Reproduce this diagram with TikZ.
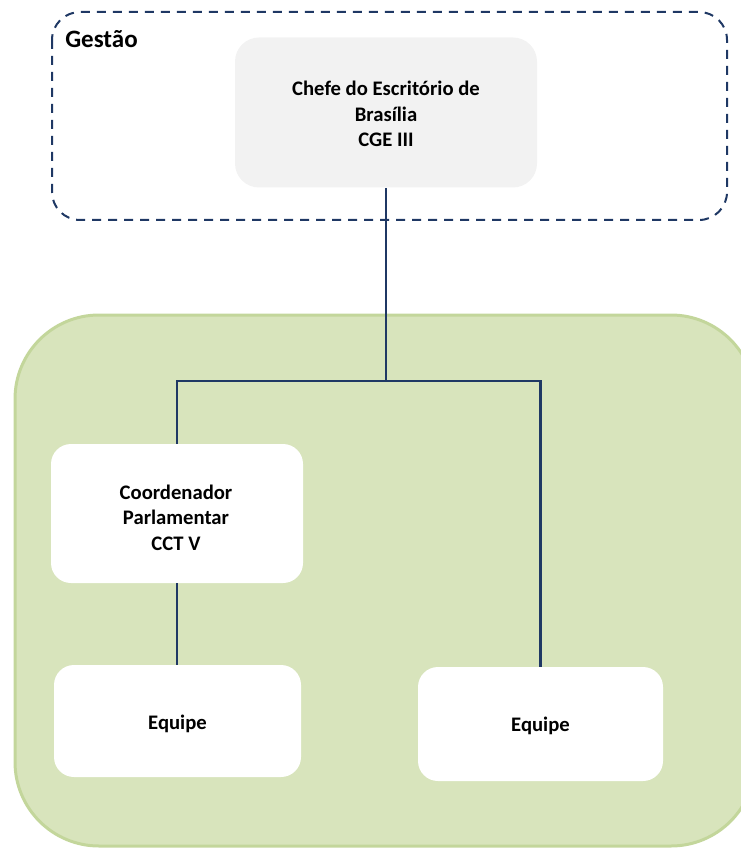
\documentclass[tikz,border=0pt]{standalone}
\usepackage{fontspec}
\setmainfont{Carlito}
\definecolor{navy}{HTML}{1F3864}
\definecolor{greenfill}{HTML}{D8E4BC}
\definecolor{greenline}{HTML}{C3D69B}
\definecolor{grayfill}{HTML}{F2F2F2}
\begin{document}
\begin{tikzpicture}[x=0.75pt,y=-0.75pt,
  box/.style={rounded corners=15pt, inner sep=0pt},
  txt/.style={inner sep=0pt, align=center,
    font=\bfseries\fontsize{15.5}{19}\selectfont},
  conn/.style={draw=navy, line width=1.7pt}]
\useasboundingbox (0,0) rectangle (741,848);
\clip (0,0) rectangle (741,848);
% Gestao frame
\draw[navy, line width=1.5pt, dash pattern=on 6.75pt off 5.25pt, rounded corners=21pt]
  (52,12) rectangle (727,220);
\node[anchor=base west, inner sep=0pt, font=\bfseries\fontsize{18.75}{22}\selectfont] (gestao) at (65,48) {Gestão};
\node[box, fill=grayfill, rounded corners=18pt, minimum width=226.5pt, minimum height=112.5pt]
  (chefe) at (386,112.5) {};
\node[txt] (chefetxt) at ([yshift=-1.1pt]chefe.center) {Chefe do Escritório de\\Brasília\\CGE III};
% green area
\draw[greenline, fill=greenfill, line width=2.25pt, rounded corners=63pt]
  (15,315) rectangle (755,846);
\node[box, fill=white, minimum width=189pt, minimum height=104.25pt]
  (coord) at (177,513.5) {};
\node[txt] (coordtxt) at ([yshift=-3.2pt, xshift=-0.75pt]coord.center) {Coordenador\\Parlamentar\\CCT V};
\node[box, fill=white, minimum width=185.25pt, minimum height=84pt]
  (eq1) at (177.5,721) {};
\node[txt] (eq1txt) at ([yshift=-2.2pt]eq1.center) {Equipe};
\node[box, fill=white, minimum width=183.75pt, minimum height=85.5pt]
  (eq2) at (540.5,724) {};
\node[txt] (eq2txt) at ([yshift=-1.5pt]eq2.center) {Equipe};
% connectors
\coordinate (j) at (386,381);
\draw[conn] (chefe.south) -- (j);
\draw[conn] (j) -| (coord.north);
\draw[conn] (j) -| (eq2.north);
\draw[conn] (coord.south) -- (coord.south |- eq1.north);
\end{tikzpicture}
\end{document}
